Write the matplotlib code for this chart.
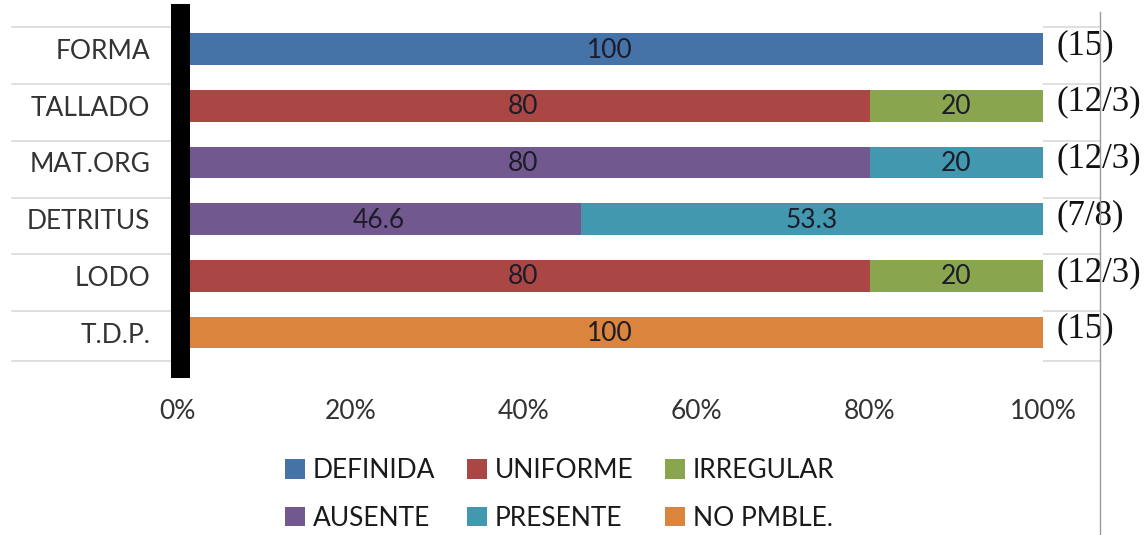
import numpy as np
import matplotlib
matplotlib.use('Agg')
import matplotlib.pyplot as plt
from matplotlib.lines import Line2D
from matplotlib.patches import Patch
import matplotlib.transforms as mtransforms

# Categories (top to bottom) and raw values per series
categories = ['FORMA', 'TALLADO', 'MAT.ORG', 'DETRITUS', 'LODO', 'T.D.P.']
series_names = ['DEFINIDA', 'UNIFORME', 'IRREGULAR', 'AUSENTE', 'PRESENTE', 'NO PMBLE.']
definida = [100, 0, 0, 0, 0, 0]
uniforme = [0, 80, 0, 0, 80, 0]
irregular = [0, 20, 0, 0, 20, 0]
ausente = [0, 0, 80, 46.6, 0, 0]
presente = [0, 0, 20, 53.3, 0, 0]
no_pmble = [0, 0, 0, 0, 0, 100]
counts = ['(15)', '(12/3)', '(12/3)', '(7/8)', '(12/3)', '(15)']
xtick_vals = [0, 20, 40, 60, 80, 100]

colors = ['#4572A7', '#AA4643', '#89A54E', '#71588F', '#4198AF', '#DB843D']

SANS = ['Lato', 'DejaVu Sans']
FS = 19

fig = plt.figure(figsize=(11.45, 5.35), dpi=100)
ax = fig.add_axes([177 / 1145, 1 - 368 / 535, 866 / 1145, 355 / 535])

# thick black axis line on the left (set before ticks, set_position resets them)
for s in ['top', 'right', 'bottom']:
    ax.spines[s].set_visible(False)
ax.spines['left'].set_position(('data', 0.3))
ax.spines['left'].set_linewidth(13.7)
ax.spines['left'].set_color('black')
ax.spines['left'].set_zorder(4)

data = np.array([definida, uniforme, irregular, ausente, presente, no_pmble], dtype=float)
totals = data.sum(axis=0)
pct = data / totals * 100  # 100% stacked

y = np.arange(len(categories))
left = np.zeros(len(categories))
for name, raw, p, c in zip(series_names, data, pct, colors):
    ax.barh(y, p, left=left, height=0.56, color=c, label=name, zorder=1)
    for i in range(len(categories)):
        if raw[i] > 0:
            lab = ('%g' % raw[i])
            ax.text(left[i] + p[i] / 2, y[i] + 0.02, lab, ha='center', va='center',
                    fontsize=FS, family=SANS, color='#1c1c2a', zorder=3)
    left += p

# totals on the right side
for i, txt in enumerate(counts):
    ax.text(101.6, y[i] - 0.06, txt, ha='left', va='center', fontsize=25,
            family=['Liberation Serif', 'DejaVu Serif'], color='#111111', clip_on=False)

ax.set_xlim(0, 100)
ax.set_ylim(5.626, -0.635)
ax.set_yticks(y)
ax.set_yticklabels(categories, family=SANS, fontsize=FS, color='#333333')
ax.set_xticks(xtick_vals)
ax.set_xticklabels(['%d%%' % v for v in xtick_vals], family=SANS, fontsize=FS, color='#333333')
ax.tick_params(axis='y', length=0, pad=21)
ax.tick_params(axis='x', length=0, pad=22)

# light row separators running across the label area
trans = mtransforms.blended_transform_factory(fig.transFigure, ax.transData)
for yy in list(y - 0.38) + [5.5]:
    fig.add_artist(Line2D([12 / 1145, 1100 / 1145], [yy, yy], transform=trans,
                          color='#d9d9d9', lw=1.2, zorder=0))

# thin vertical border on the right
fig.add_artist(Line2D([1100 / 1145, 1100 / 1145], [0, 1 - 12 / 535],
                      transform=fig.transFigure, color='#9a9a9a', lw=1.0))

# legend filled row-wise (3 columns)
order = [0, 3, 1, 4, 2, 5]
handles = [Patch(facecolor=colors[k], edgecolor='none') for k in order]
labels = [series_names[k] for k in order]
leg = fig.legend(handles, labels, ncol=3, loc='center',
                 bbox_to_anchor=(560 / 1145, 1 - 494.5 / 535), frameon=False,
                 prop={'family': SANS, 'size': FS}, handlelength=0.75, handleheight=0.75,
                 handletextpad=0.3, columnspacing=1.2, labelspacing=0.85)
for t in leg.get_texts():
    t.set_color('#1a1a1a')

fig.savefig('out.png', dpi=100)
